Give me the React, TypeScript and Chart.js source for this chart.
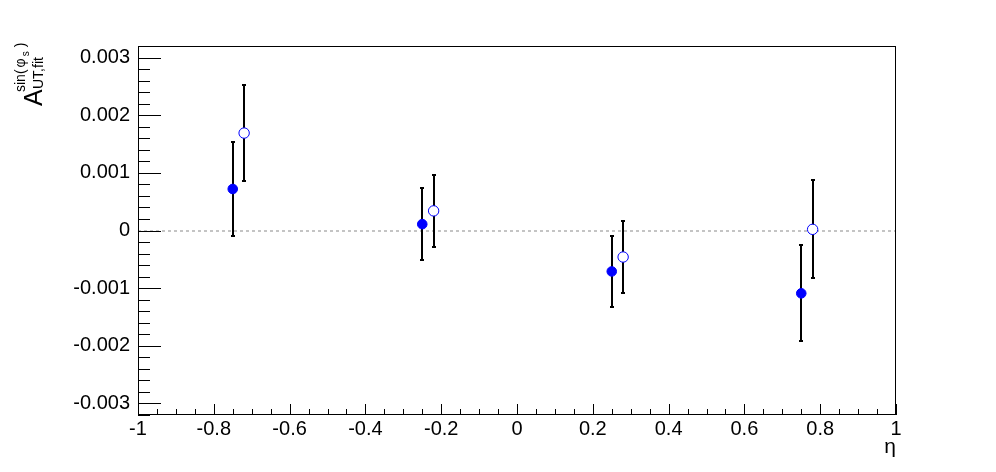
import React, { useEffect, useRef } from "react";
import { Chart, registerables } from "chart.js";

Chart.register(...registerables);

// eta bin positions
const etaFilled = [-0.75, -0.25, 0.25, 0.75];
const etaOpen = [-0.72, -0.22, 0.28, 0.78];
// asymmetry values
const valFilled = [0.00072, 0.00011, -0.00071, -0.00109];
const valOpen = [0.00169, 0.00034, -0.00046, 0.00002];
// statistical errors
const errFilled = [0.00082, 0.00062, 0.00061, 0.00083];
const errOpen = [0.00084, 0.00062, 0.00062, 0.00085];

const xMin = -1;
const xMax = 1;
const yMin = -0.0032;
const yMax = 0.0032;
const xMajor = 0.2;
const xMinor = 0.05;
const yMajor = 0.001;
const yMinor = 0.0002;

const FONT = '"Liberation Sans", Arial, Helvetica, sans-serif';

const rootPlugin = {
  id: "rootStyle",
  beforeDatasetsDraw(chart: any) {
    const ctx = chart.ctx;
    const xs = chart.scales.x;
    const ys = chart.scales.y;
    const a = chart.chartArea;
    ctx.save();
    // zero dotted line
    const y0 = Math.round(ys.getPixelForValue(0));
    ctx.strokeStyle = "#c4c4c4";
    ctx.lineWidth = 2;
    ctx.setLineDash([3, 3]);
    ctx.beginPath();
    ctx.moveTo(a.left, y0);
    ctx.lineTo(a.right, y0);
    ctx.stroke();
    ctx.setLineDash([]);
    // error bars
    ctx.fillStyle = "#000";
    const drawErr = (xv: number[], yv: number[], ev: number[]) => {
      for (let i = 0; i < xv.length; i++) {
        const px = Math.round(xs.getPixelForValue(xv[i]));
        const pTop = Math.round(ys.getPixelForValue(yv[i] + ev[i]));
        const pBot = Math.round(ys.getPixelForValue(yv[i] - ev[i]));
        ctx.fillRect(px - 1, pTop, 2, pBot - pTop);
        ctx.fillRect(px - 2, pTop - 1, 4, 2);
        ctx.fillRect(px - 2, pBot - 1, 4, 2);
      }
    };
    drawErr(etaFilled, valFilled, errFilled);
    drawErr(etaOpen, valOpen, errOpen);
    ctx.restore();
  },
  afterDraw(chart: any) {
    const ctx = chart.ctx;
    const xs = chart.scales.x;
    const ys = chart.scales.y;
    const a = chart.chartArea;
    ctx.save();
    ctx.strokeStyle = "#000";
    ctx.lineWidth = 1;
    // frame
    ctx.strokeRect(a.left + 0.5, a.top + 0.5, a.right - a.left - 1, a.bottom - a.top - 1);
    // y ticks
    ctx.beginPath();
    const startY = Math.ceil(yMin / yMinor - 1e-6);
    for (let k = startY; k * yMinor <= yMax + 1e-9; k++) {
      const v = k * yMinor;
      const py = Math.round(ys.getPixelForValue(v)) + 0.5;
      const major = k % 5 === 0;
      ctx.moveTo(a.left, py);
      ctx.lineTo(a.left + (major ? 23 : 12), py);
    }
    // x ticks
    const startX = Math.ceil(xMin / xMinor - 1e-6);
    for (let k = startX; k * xMinor <= xMax + 1e-9; k++) {
      const v = k * xMinor;
      const px = Math.round(xs.getPixelForValue(v)) + 0.5;
      const major = k % 4 === 0;
      ctx.moveTo(px, a.bottom);
      ctx.lineTo(px, a.bottom - (major ? 11 : 6));
    }
    ctx.stroke();

    // x axis title
    ctx.fillStyle = "#000";
    ctx.font = `21px ${FONT}`;
    ctx.textAlign = "right";
    ctx.textBaseline = "alphabetic";
    ctx.fillText("\u03b7", a.right, 453);

    // y axis title (rotated)
    ctx.translate(42, 106);
    ctx.rotate(-Math.PI / 2);
    ctx.textAlign = "left";
    ctx.font = `25px ${FONT}`;
    ctx.fillText("A", 0, 0);
    ctx.font = `14px ${FONT}`;
    ctx.fillText("UT,fit", 17, 1);
    let u = 14;
    const supY = -17;
    ctx.font = `14px ${FONT}`;
    ctx.fillText("sin(", u, supY);
    u += ctx.measureText("sin(").width + 2;
    ctx.fillText("\u03c6", u, supY);
    u += ctx.measureText("\u03c6").width + 2;
    ctx.font = `10px ${FONT}`;
    ctx.fillText("s", u, supY + 4);
    u += ctx.measureText("s").width + 4;
    ctx.font = `14px ${FONT}`;
    ctx.fillText(")", u, supY);
    ctx.restore();
  },
};

export default function App() {
  const ref = useRef<HTMLCanvasElement | null>(null);
  useEffect(() => {
    if (!ref.current) return;
    const chart = new Chart(ref.current, {
      type: "scatter",
      data: {
        datasets: [
          {
            label: "filled",
            data: etaFilled.map((x, i) => ({ x, y: valFilled[i] })),
            pointStyle: "circle",
            pointRadius: 4.8,
            backgroundColor: "#0000ff",
            borderColor: "#0000ff",
            borderWidth: 1,
          },
          {
            label: "open",
            data: etaOpen.map((x, i) => ({ x, y: valOpen[i] })),
            pointStyle: "circle",
            pointRadius: 5.2,
            backgroundColor: "#ffffff",
            borderColor: "#0000ff",
            borderWidth: 1,
          },
        ],
      },
      options: {
        responsive: false,
        animation: false,
        events: [],
        layout: { padding: { top: 46, right: 100, left: 0, bottom: 0 } },
        plugins: {
          legend: { display: false },
          tooltip: { enabled: false },
          title: { display: false },
        },
        scales: {
          x: {
            type: "linear",
            min: xMin,
            max: xMax,
            grid: { display: false, drawTicks: false },
            border: { display: false },
            afterFit: (s: any) => {
              s.height = 57;
            },
            ticks: {
              stepSize: xMajor,
              autoSkip: false,
              maxRotation: 0,
              padding: 2,
              color: "#000",
              font: { family: FONT, size: 20 },
              callback: (v: any) => {
                const n = Number(v);
                return Math.abs(n) < 1e-9 ? "0" : String(parseFloat(n.toFixed(1)));
              },
            },
          },
          y: {
            type: "linear",
            min: yMin,
            max: yMax,
            grid: { display: false, drawTicks: false },
            border: { display: false },
            afterFit: (s: any) => {
              s.width = 138;
            },
            ticks: {
              stepSize: yMajor,
              includeBounds: false,
              autoSkip: false,
              padding: 8,
              color: "#000",
              font: { family: FONT, size: 20 },
              callback: (v: any) => {
                const n = Number(v);
                return Math.abs(n) < 1e-9 ? "0" : n.toFixed(3);
              },
            },
          },
        },
      },
      plugins: [rootPlugin],
    } as any);
    return () => chart.destroy();
  }, []);
  return (
    <div style={{ position: "absolute", left: 0, top: 0, width: 996, height: 472, background: "#fff" }}>
      <canvas ref={ref} width={996} height={472} style={{ width: 996, height: 472, display: "block" }} />
    </div>
  );
}
